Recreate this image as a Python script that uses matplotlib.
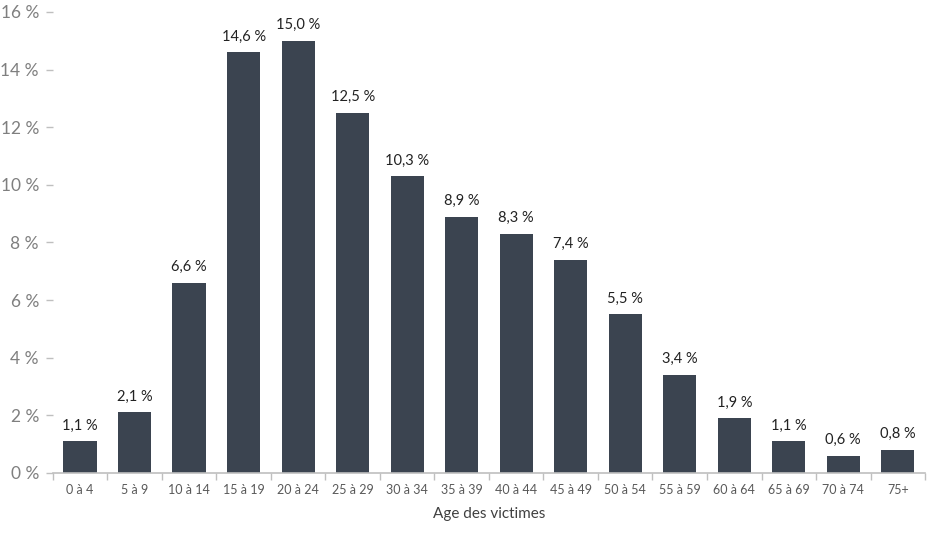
import numpy as np
import matplotlib.pyplot as plt

# Age groups and share of victims (%)
ages = ['0 à 4', '5 à 9', '10 à 14', '15 à 19', '20 à 24', '25 à 29', '30 à 34', '35 à 39',
        '40 à 44', '45 à 49', '50 à 54', '55 à 59', '60 à 64', '65 à 69', '70 à 74', '75+']
shares = [1.1, 2.1, 6.6, 14.6, 15.0, 12.5, 10.3, 8.9, 8.3, 7.4, 5.5, 3.4, 1.9, 1.1, 0.6, 0.8]
yticks = [0, 2, 4, 6, 8, 10, 12, 14, 16]

plt.rcParams['font.family'] = ['Lato', 'DejaVu Sans']

fig = plt.figure(figsize=(9.43, 5.33), dpi=100)
ax = fig.add_axes([0.056, 0.1126, 0.925, 0.865])

x = np.arange(len(ages))
ax.bar(x, shares, width=0.61, color='#3b4450')

for xi, v in zip(x, shares):
    ax.text(xi, v + 0.3, f'{v:.1f} %'.replace('.', ','), ha='center', va='bottom',
            fontsize=10.5, color='#222222')

ax.set_xlim(-0.5, len(ages) - 0.5)
ax.set_ylim(0, 16)
ax.set_yticks(yticks)
ax.set_yticklabels([f'{t} %' for t in yticks], fontsize=12.5, color='#7f7f7f')
ax.tick_params(axis='y', length=5, width=1, color='#bfbfbf', pad=5, direction='out')

ax.set_xticks(x)
ax.set_xticklabels(ages, fontsize=9, color='#595959')
ax.tick_params(axis='x', which='major', length=0, pad=8)
ax.set_xticks(np.arange(-0.5, len(ages), 1), minor=True)
ax.tick_params(axis='x', which='minor', length=5, color='#bfbfbf', width=1)
ax.set_xlabel('Age des victimes', fontsize=11, color='#404040', labelpad=8)

for s in ['top', 'right', 'left']:
    ax.spines[s].set_visible(False)
ax.spines['bottom'].set_color('#bfbfbf')
ax.spines['bottom'].set_linewidth(1.2)

fig.savefig('out.png', dpi=100)
